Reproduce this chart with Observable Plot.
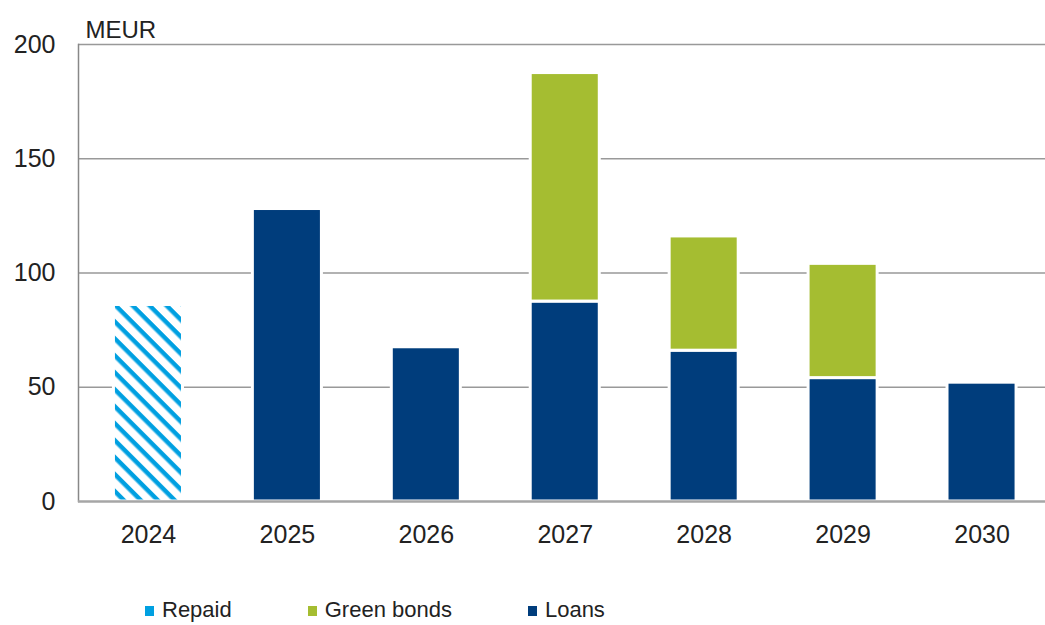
<!DOCTYPE html>
<html>
<head>
<meta charset="utf-8">
<script src="https://cdn.jsdelivr.net/npm/d3@7"></script>
<script src="https://cdn.jsdelivr.net/npm/@observablehq/plot@0.6"></script>
<style>
  html, body { margin: 0; padding: 0; background: #fff; }
  #chart svg { display: block; }
  .legend { display: flex; align-items: center; padding-left: 145px; height: 30px; font-family: "Liberation Sans", Arial, sans-serif; font-size: 22px; color: #222; }
  .legend .item { display: flex; align-items: center; margin-right: 76px; }
  .legend .sw { width: 9px; height: 10px; margin-right: 8px; position: relative; top: 1px; }
</style>
</head>
<body>
<div id="chart"></div>
<script>
const years = ["2024", "2025", "2026", "2027", "2028", "2029", "2030"];
const repaid = [86, 0, 0, 0, 0, 0, 0];
const loans = [0, 128, 67.5, 87.5, 66, 54, 52];
const greenBonds = [0, 0, 0, 100, 50, 50, 0];
const yTicks = [0, 50, 100, 150, 200];
const seriesNames = ["Repaid", "Green bonds", "Loans"];
const seriesColors = ["#00a0e1", "#a5bd31", "#003d7c"];

const repaidData = years.map((year, i) => ({year, value: repaid[i]})).filter(d => d.value > 0);
const stackData = [];
years.forEach((year, i) => {
  if (loans[i] > 0) stackData.push({year, series: "Loans", value: loans[i]});
  if (greenBonds[i] > 0) stackData.push({year, series: "Green bonds", value: greenBonds[i]});
});

const svg = Plot.plot({
  width: 1045,
  height: 595,
  marginLeft: 78,
  marginRight: 0,
  marginTop: 44,
  marginBottom: 94,
  style: {fontFamily: "'Liberation Sans', Arial, sans-serif", fontSize: "25px", color: "#222", background: "white"},
  x: {domain: years, range: [78.5, 1051], paddingInner: 0.503, paddingOuter: 0.2515, round: false, label: null},
  y: {domain: [0, 200], label: null},
  color: {domain: ["Green bonds", "Loans"], range: [seriesColors[1], seriesColors[2]]},
  marks: [
    Plot.ruleY(yTicks.filter(t => t > 0), {stroke: "#999", strokeWidth: 1.5}),
    Plot.frame({anchor: "left", stroke: "#888", strokeWidth: 1.5}),
    Plot.barY(repaidData, {x: "year", y: "value", fill: "url(#hatch)", stroke: "white", strokeWidth: 3}),
    Plot.barY(stackData, {x: "year", y: "value", fill: "series", order: ["Loans", "Green bonds"], stroke: "white", strokeWidth: 3}),
    Plot.ruleY([0], {stroke: "#a6a6a6", strokeWidth: 2.5}),
    Plot.axisY({ticks: yTicks, tickSize: 0, tickPadding: 23, label: null}),
    Plot.axisX({tickSize: 0, tickPadding: 24, label: null}),
    Plot.text(["MEUR"], {frameAnchor: "top-left", text: d => d, dx: 7, dy: -24, textAnchor: "start", fontSize: 24, fill: "#222"})
  ]
});

// hatch pattern for "Repaid"
const ns = "http://www.w3.org/2000/svg";
const defs = document.createElementNS(ns, "defs");
const pat = document.createElementNS(ns, "pattern");
pat.setAttribute("id", "hatch");
pat.setAttribute("patternUnits", "userSpaceOnUse");
pat.setAttribute("width", "12");
pat.setAttribute("height", "12");
pat.setAttribute("patternTransform", "rotate(45)");
const bg = document.createElementNS(ns, "rect");
bg.setAttribute("width", "12"); bg.setAttribute("height", "12"); bg.setAttribute("fill", "white");
const stripe = document.createElementNS(ns, "rect");
stripe.setAttribute("width", "12"); stripe.setAttribute("height", "4.5"); stripe.setAttribute("fill", seriesColors[0]);
pat.appendChild(bg); pat.appendChild(stripe);
defs.appendChild(pat);
svg.insertBefore(defs, svg.firstChild);

document.getElementById("chart").appendChild(svg);

// legend
const legend = document.createElement("div");
legend.className = "legend";
seriesNames.forEach((name, i) => {
  const item = document.createElement("div");
  item.className = "item";
  const sw = document.createElement("span");
  sw.className = "sw";
  sw.style.background = seriesColors[i];
  const label = document.createElement("span");
  label.textContent = name;
  item.appendChild(sw); item.appendChild(label);
  legend.appendChild(item);
});
document.getElementById("chart").appendChild(legend);
</script>
</body>
</html>
